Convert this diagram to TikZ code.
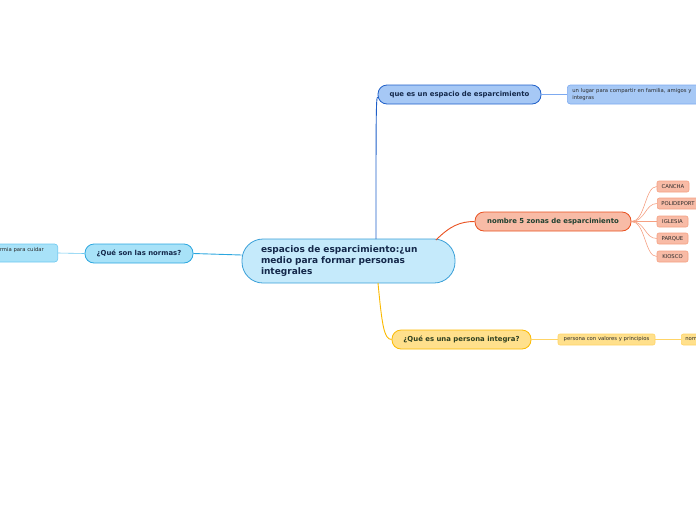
\documentclass[tikz,border=0pt]{standalone}
\usepackage{fontspec}
\setmainfont{DejaVu Sans}
\definecolor{cfill}{HTML}{C5EAFB}
\definecolor{cline}{HTML}{3AA0D8}
\definecolor{ctext}{HTML}{14284A}
\definecolor{qfill}{HTML}{A6C8F5}
\definecolor{qline}{HTML}{1F5FC8}
\definecolor{qleaf}{HTML}{7DAAF0}
\definecolor{nfill}{HTML}{F8BBA6}
\definecolor{nline}{HTML}{E9501F}
\definecolor{nleaf}{HTML}{F5A082}
\definecolor{ntext}{HTML}{1F4030}
\definecolor{pfill}{HTML}{FFE08C}
\definecolor{pline}{HTML}{FBB900}
\definecolor{pleaf}{HTML}{FFD466}
\definecolor{ptext}{HTML}{2E4020}
\definecolor{sfill}{HTML}{A8E2F8}
\definecolor{sline}{HTML}{2BA6DF}
\definecolor{sleaf}{HTML}{6CC8F0}
\definecolor{ltext}{HTML}{2A2A2A}
\tikzset{
  box/.style={draw, line width=0.8pt, inner sep=0pt, rounded corners=9pt, minimum height=19pt, text=ctext,
    font=\fontsize{6.9}{8}\selectfont\bfseries},
  leafbox/.style={draw, line width=0.6pt, inner sep=0pt, rounded corners=2pt, minimum height=11pt, text=ltext,
    font=\fontsize{5.3}{7}\selectfont},
  conn/.style={line width=0.9pt},
  leafconn/.style={line width=0.6pt},
}
\begin{document}
\begin{tikzpicture}[x=1pt,y=-1pt]
\useasboundingbox (0,0) rectangle (696,520);
\clip (0,0) rectangle (696,520);
% central
\node[draw=cline, fill=cfill, line width=0.8pt, rounded corners=21pt, minimum width=213pt, minimum height=44pt,
  inner sep=0pt, text width=175pt, align=left, text=ctext, font=\fontsize{9}{11}\selectfont\bfseries]
  (c) at (348.5,261) {espacios de esparcimiento:¿un\\medio para formar personas\\integrales};
% main branches
\node[box, draw=qline, fill=qfill, minimum width=163pt] (q) at (459.5,94.5) {que es un espacio de esparcimiento};
\node[box, draw=nline, fill=nfill, minimum width=156pt, text=ntext] (n) at (553,221.5) {nombre 5 zonas de esparcimiento};
\node[box, draw=pline, fill=pfill, minimum width=139pt, text=ptext] (p) at (461.5,339.5) {¿Qué es una persona integra?};
\node[box, draw=sline, fill=sfill, minimum width=108pt] (s) at (139,253.5) {¿Qué son las normas?};
% leaves
\node[leafbox, draw=qleaf, fill=qfill, anchor=west, minimum width=200pt, minimum height=19pt, rounded corners=3pt,
  text width=190pt, inner xsep=5pt, align=left] (q1) at (567,94.5) {un lugar para compartir en familia, amigos y\\integras};
\node[leafbox, draw=nleaf, fill=nfill, minimum width=32pt] (n1) at (673,186.5) {CANCHA};
\node[leafbox, draw=nleaf, fill=nfill, anchor=west, minimum width=60pt, text width=55pt, inner xsep=4pt, align=left] (n2) at (657,203.5) {POLIDEPORT};
\node[leafbox, draw=nleaf, fill=nfill, minimum width=31pt] (n3) at (672.5,221.5) {IGLESIA};
\node[leafbox, draw=nleaf, fill=nfill, minimum width=31pt] (n4) at (672.5,238.5) {PARQUE};
\node[leafbox, draw=nleaf, fill=nfill, minimum width=31pt] (n5) at (672.5,256.5) {KIOSCO};
\node[leafbox, draw=pleaf, fill=pfill, minimum width=97pt] (p1) at (606.5,339.5) {persona con valores y principios};
\node[leafbox, draw=pleaf, fill=pfill, anchor=west, minimum width=40pt, text width=34pt, inner xsep=4pt, align=left] (p2) at (681,339.5) {nom};
\node[leafbox, draw=sleaf, fill=sfill, anchor=east, minimum width=100pt, minimum height=18pt, rounded corners=3pt] (s1) at (58,253) {};
\node[anchor=east, inner sep=0pt, text=ltext, font=\fontsize{5.3}{7}\selectfont] (s1t) at (44,250) {rmia para cuidar};
% connectors
\draw[conn, qline] (376,239) .. controls (376,120) and (376,97) .. (q.west |- 0,97);
\draw[conn, nline] (436,240) .. controls (450,226) and (460,221.5) .. (n.west);
\draw[conn, pline] (378,283) .. controls (382,325) and (384,339.5) .. (p.west);
\draw[conn, sline] ([yshift=6pt]c.west) -- (s.east);
\draw[leafconn, qleaf] (q.east) -- (q1.west);
\foreach \k in {1,...,5} {
  \draw[leafconn, nleaf] (n.east) .. controls +(14,0) and +(-12,0) .. (n\k.west);
}
\draw[leafconn, pleaf] (p.east) -- (p1.west);
\draw[leafconn, pleaf] (p1.east) -- (p2.west);
\draw[leafconn, sleaf] (s.west) -- (s1.east);
\end{tikzpicture}
\end{document}
